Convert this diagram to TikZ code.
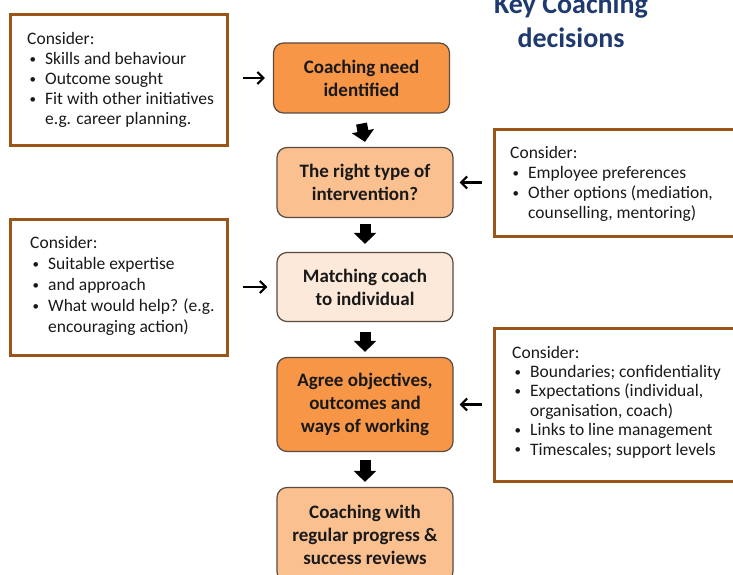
\documentclass[tikz,border=0pt]{standalone}
\usepackage{fontspec}
\setmainfont{Carlito}
\usetikzlibrary{arrows.meta}
\definecolor{orgA}{HTML}{F79646}
\definecolor{orgB}{HTML}{FAC090}
\definecolor{orgC}{HTML}{FDE9D9}
\definecolor{flowline}{HTML}{5A4A40}
\definecolor{brownline}{HTML}{9A5518}
\definecolor{navy}{HTML}{1F3A6E}
\newcommand{\bl}[1]{\makebox[18pt][l]{\hspace{2.5pt}\raisebox{1.2pt}{\fontsize{13}{13}\selectfont•}}#1}
\newcommand{\ct}[1]{\hspace{18pt}#1}
\begin{document}
\begin{tikzpicture}[x=1pt,y=-1pt,
  flow/.style={draw=flowline, line width=1.2pt, rounded corners=10pt,
    minimum width=176pt, inner sep=0pt, align=center,
    font=\fontsize{19}{23}\selectfont\bfseries, text=black!90},
  consbox/.style={draw=brownline, line width=3pt, inner sep=0pt},
  constext/.style={anchor=west, inner sep=0pt, align=left, text=black!90},
  blockarrow/.style={line width=11pt, -{Triangle[width=22pt,length=11pt]}},
  thinarrow/.style={line width=2.2pt, -{Straight Barb[length=6pt,width=12pt]}}]
\useasboundingbox (0,0) rectangle (733,575);

% title
\node[align=center, text=navy, font=\fontsize{28}{34}\selectfont\bfseries] (title) at (571,21) {Key Coaching\\decisions};

% flow boxes
\node[flow, fill=orgA, minimum height=70pt] (A) at (361.5,78) {Coaching need\\identified};
\node[flow, fill=orgB, minimum height=70pt] (B) at (365,182.5) {The right type of\\intervention?};
\node[flow, fill=orgC, minimum height=69pt] (C) at (365,287) {Matching coach\\to individual};
\node[flow, fill=orgA, minimum height=94pt] (D) at (365,404.5) {Agree objectives,\\outcomes and\\ways of working};
\node[flow, fill=orgB, minimum height=94pt] (E) at (365,534.5) {Coaching with\\regular progress \&\\success reviews};

% consider boxes
\node[consbox, minimum width=217pt, minimum height=131pt] (L1) at (119,80) {};
\node[consbox, minimum width=217pt, minimum height=136pt] (L2) at (119,287.5) {};
\node[consbox, minimum width=252pt, minimum height=107pt] (R1) at (620.5,183) {};
\node[consbox, minimum width=252pt, minimum height=153pt] (R2) at (620.5,405) {};

\node[constext, font=\fontsize{17.5}{20}\selectfont] (L1t) at (27,80)
  {Consider:\\\bl{Skills and behaviour}\\\bl{Outcome sought}\\\bl{Fit with other initiatives}\\\ct{e.g. career planning.}};
\node[constext, font=\fontsize{17.5}{21}\selectfont] (L2t) at (30,286)
  {Consider:\\\bl{Suitable expertise}\\\bl{and approach}\\\bl{What would help? (e.g.}\\\ct{encouraging action)}};
\node[constext, font=\fontsize{17.5}{20}\selectfont] (R1t) at (510,184)
  {Consider:\\\bl{Employee preferences}\\\bl{Other options (mediation,}\\\ct{counselling, mentoring)}};
\node[constext, font=\fontsize{17.5}{19.4}\selectfont] (R2t) at (512,402)
  {Consider:\\\bl{Boundaries; confidentiality}\\\bl{Expectations (individual,}\\\ct{organisation, coach)}\\\bl{Links to line management}\\\bl{Timescales; support levels}};

% block arrows
\draw[blockarrow] ([yshift=-10pt]A.south) -- ([yshift=5pt]B.north);
\draw[blockarrow] ([yshift=-6pt]B.south) -- ([yshift=8pt]C.north);
\draw[blockarrow] ([yshift=-10pt]C.south) -- ([yshift=5pt]D.north);
\draw[blockarrow] ([yshift=-8pt]D.south) -- ([yshift=5pt]E.north);

% thin arrows
\draw[thinarrow] ([xshift=14pt]L1.east |- A.west) -- ([xshift=-8pt]A.west);
\draw[thinarrow] ([xshift=-11pt]R1.west |- B.east) -- ([xshift=6pt]B.east);
\draw[thinarrow] ([xshift=14pt]L2.east |- C.west) -- ([xshift=-9pt]C.west);
\draw[thinarrow] ([xshift=-11pt]R2.west |- D.east) -- ([xshift=6pt]D.east);
\end{tikzpicture}
\end{document}
